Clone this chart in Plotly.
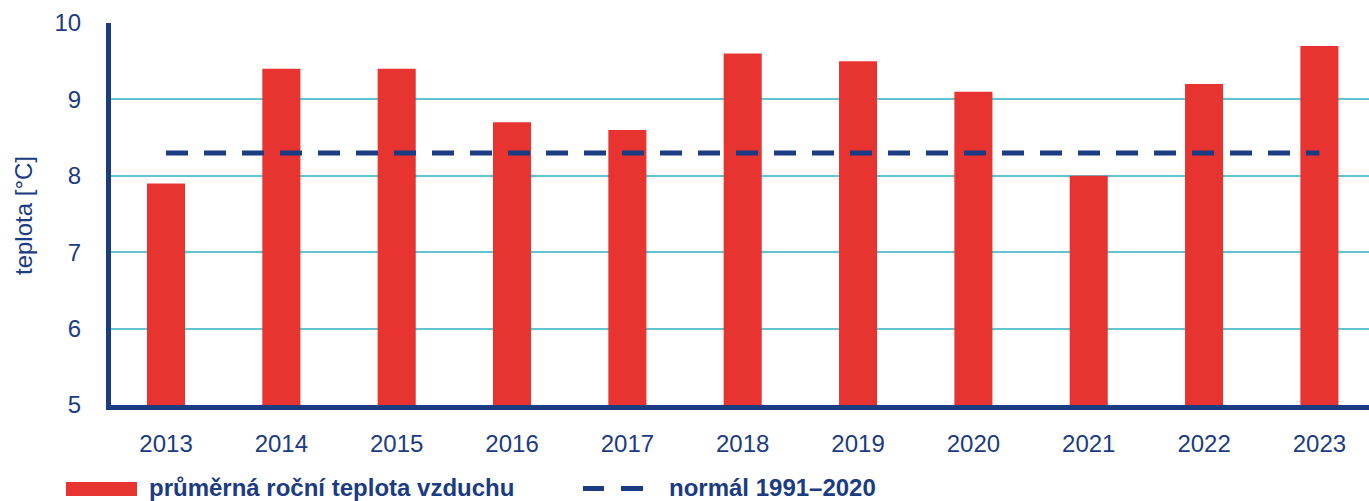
import plotly.graph_objects as go

years = ["2013", "2014", "2015", "2016", "2017", "2018", "2019", "2020", "2021", "2022", "2023"]
avg_temp = [7.9, 9.4, 9.4, 8.7, 8.6, 9.6, 9.5, 9.1, 8.0, 9.2, 9.7]
normal_value = 8.3
y_ticks = [5, 6, 7, 8, 9, 10]
bar_label = "průměrná roční teplota vzduchu"
normal_label = "normál 1991–2020"
y_title = "teplota [°C]"

RED = "#E83431"
NAVY = "#1B3B82"
GRID = "#62C4D0"
FONT = "Liberation Sans, Arial, sans-serif"

W, H = 1369, 501
ML, MR, MT, MB = 111, 0, 23, 96
PW = W - ML - MR
PH = H - MT - MB


def px_x(px):
    return (px - ML) / PW


def px_y(py):
    return (H - MB - py) / PH


fig = go.Figure()
fig.add_trace(go.Bar(x=years, y=avg_temp, marker=dict(color=RED, line=dict(width=0)),
                     width=0.33, name=bar_label, showlegend=False))
fig.add_trace(go.Scatter(x=[years[0], years[-1]], y=[normal_value, normal_value], mode="lines",
                         line=dict(color=NAVY, width=5, dash="22px,16px"),
                         name=normal_label, showlegend=False))

fig.update_layout(
    width=W, height=H,
    margin=dict(l=ML, r=MR, t=MT, b=MB),
    paper_bgcolor="white", plot_bgcolor="white",
    font=dict(family=FONT, color=NAVY, size=24),
    showlegend=False,
    xaxis=dict(type="category", range=[-0.477, 10.43], showgrid=False,
               showline=True, linecolor=NAVY, linewidth=5, ticks="",
               tickfont=dict(size=24, color=NAVY), ticklabelstandoff=13, fixedrange=True),
    yaxis=dict(range=[5, 10], tickvals=y_ticks, showgrid=True, gridcolor=GRID, gridwidth=1.5,
               showline=True, linecolor=NAVY, linewidth=5, ticks="", zeroline=False,
               tickfont=dict(size=24, color=NAVY), ticklabelstandoff=20, fixedrange=True),
)

annotations = [
    dict(text=y_title, xref="paper", yref="paper", x=px_x(24), y=px_y(216), textangle=-90,
         showarrow=False, xanchor="center", yanchor="middle", font=dict(size=24, color=NAVY)),
    dict(text="<b>" + bar_label + "</b>", xref="paper", yref="paper", x=px_x(148), y=px_y(487),
         showarrow=False, xanchor="left", yanchor="middle", borderpad=0, font=dict(size=24, color=NAVY)),
    dict(text="<b>" + normal_label + "</b>", xref="paper", yref="paper", x=px_x(668), y=px_y(487),
         showarrow=False, xanchor="left", yanchor="middle", borderpad=0, font=dict(size=24, color=NAVY)),
]
fig.update_layout(annotations=annotations)

shapes = [
    dict(type="rect", xref="paper", yref="paper", x0=px_x(66), x1=px_x(137), y0=px_y(496), y1=px_y(482),
         fillcolor=RED, line=dict(width=0)),
    dict(type="line", xref="paper", yref="paper", x0=px_x(583), x1=px_x(604), y0=px_y(488.5), y1=px_y(488.5),
         line=dict(color=NAVY, width=5)),
    dict(type="line", xref="paper", yref="paper", x0=px_x(621), x1=px_x(643), y0=px_y(488.5), y1=px_y(488.5),
         line=dict(color=NAVY, width=5)),
]
fig.update_layout(shapes=shapes)

fig.write_html("out.html", config={"displayModeBar": False},
               post_script="document.body.style.margin='0';document.body.style.overflow='hidden';")
